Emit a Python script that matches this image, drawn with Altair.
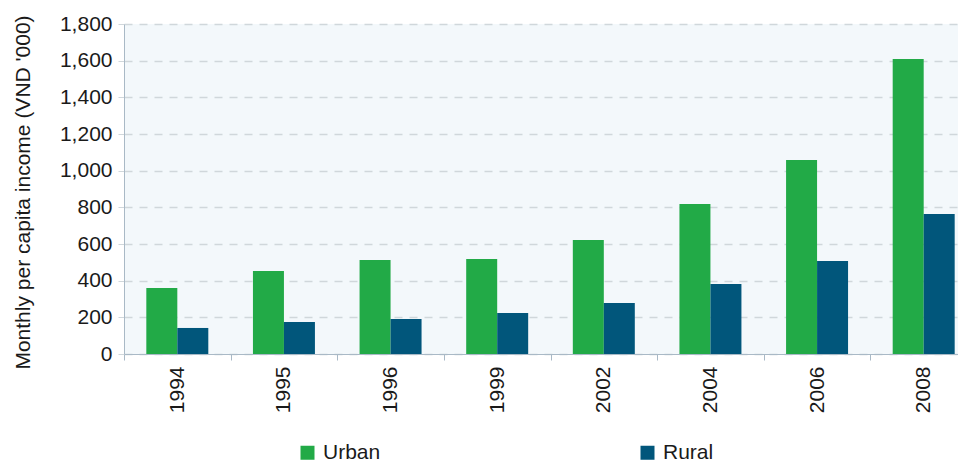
import altair as alt
import pandas as pd

years = ["1994", "1995", "1996", "1999", "2002", "2004", "2006", "2008"]
urban = [360, 453, 513, 518, 622, 818, 1058, 1609]
rural = [142, 175, 191, 224, 278, 382, 507, 764]
series = ["Urban", "Rural"]
colors = ["#22AA47", "#01567B"]
y_ticks = [0, 200, 400, 600, 800, 1000, 1200, 1400, 1600, 1800]

rows = []
for y, u, r in zip(years, urban, rural):
    rows.append({"year": y, "area": "Urban", "value": u})
    rows.append({"year": y, "area": "Rural", "value": r})
df = pd.DataFrame(rows)

FONT = "Liberation Sans"
TXT = "#1a1a1a"
GRID = "#D0D7DB"
AXIS = "#A9B9C6"
FS = 21

chart = alt.Chart(df).mark_bar().encode(
    x=alt.X("year:N", sort=years,
            scale=alt.Scale(paddingInner=0, paddingOuter=0),
            axis=alt.Axis(title=None, labelAngle=270, labelFontSize=FS, labelFont=FONT,
                          labelColor=TXT, labelPadding=6, tickBand="extent", tickSize=6,
                          tickColor=AXIS, domainColor=AXIS, grid=False)),
    xOffset=alt.XOffset("area:N", sort=series,
                        scale=alt.Scale(paddingOuter=0.72, paddingInner=0)),
    y=alt.Y("value:Q", scale=alt.Scale(domain=[0, 1800], nice=False),
            axis=alt.Axis(title="Monthly per capita income (VND '000)", values=y_ticks,
                          format=",.0f", labelFontSize=FS, labelFont=FONT, labelColor=TXT,
                          labelPadding=6, tickSize=6, tickColor=GRID, domainColor=AXIS,
                          grid=True, gridColor=GRID, gridDash=[8, 7], gridWidth=1.3,
                          titleFont=FONT, titleFontSize=FS, titleFontWeight="normal",
                          titleColor=TXT, titleAngle=270, titleX=-101, titleY=168,
                          titleAlign="center", titleBaseline="middle")),
    color=alt.Color("area:N", sort=series,
                    scale=alt.Scale(domain=series, range=colors),
                    legend=alt.Legend(title=None, orient="none", direction="horizontal",
                                      legendX=173, legendY=418, symbolType="square",
                                      symbolSize=196, symbolStrokeWidth=0,
                                      labelFontSize=FS, labelFont=FONT, labelColor=TXT,
                                      labelOffset=5, columnPadding=256)),
).properties(
    width=853, height=330,
    autosize=alt.AutoSizeParams(type="none"),
    padding={"left": 116, "top": 16, "right": -19, "bottom": 110},
).configure_view(
    fill="#F3F8FB", strokeWidth=0
)

chart.save("out.html", embed_options={"renderer": "svg", "actions": False})
